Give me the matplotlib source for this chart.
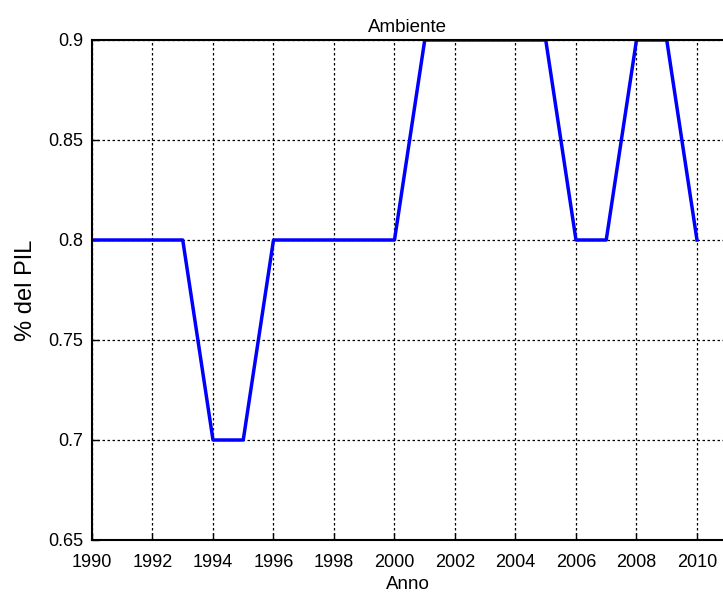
import matplotlib
matplotlib.use('Agg')
import matplotlib.pyplot as plt

# dati
anni = [1990, 1991, 1992, 1993, 1994, 1995, 1996, 1997, 1998, 1999, 2000,
        2001, 2002, 2003, 2004, 2005, 2006, 2007, 2008, 2009, 2010]
pil = [0.8, 0.8, 0.8, 0.8, 0.7, 0.7, 0.8, 0.8, 0.8, 0.8, 0.8,
       0.9, 0.9, 0.9, 0.9, 0.9, 0.8, 0.8, 0.9, 0.9, 0.8]
xticks = list(range(1990, 2011, 2))
yticks = [0.65, 0.7, 0.75, 0.8, 0.85, 0.9]
ytick_labels = ['0.65', '0.7', '0.75', '0.8', '0.85', '0.9']

plt.rcParams['font.family'] = ['Liberation Sans', 'DejaVu Sans']

fig = plt.figure(figsize=(7.23, 5.94), dpi=100)
ax = fig.add_axes([92 / 723, 1 - 540 / 594, 1 - 92 / 723, (540 - 40) / 594])

ax.plot(anni, pil, color='#0000ff', linewidth=2.5)

ax.set_xlim(1990, 2010.86)
ax.set_ylim(0.65, 0.9)
ax.set_xticks(xticks)
ax.set_yticks(yticks)
ax.set_yticklabels(ytick_labels)
ax.tick_params(direction='in', length=5, width=1, labelsize=13)
ax.tick_params(axis='x', pad=10)
ax.tick_params(axis='y', pad=6.5)
ax.grid(True, color='black', linestyle=(0, (2, 2)), linewidth=0.9)

for s in ['left', 'bottom', 'top']:
    ax.spines[s].set_linewidth(1.5)
ax.spines['right'].set_visible(False)

ax.set_title('Ambiente', fontsize=13.5, pad=6)
ax.set_xlabel('Anno', fontsize=13.5, labelpad=3.5)
ax.set_ylabel('% del PIL', fontsize=17, labelpad=8)

fig.savefig('out.png', dpi=100)
